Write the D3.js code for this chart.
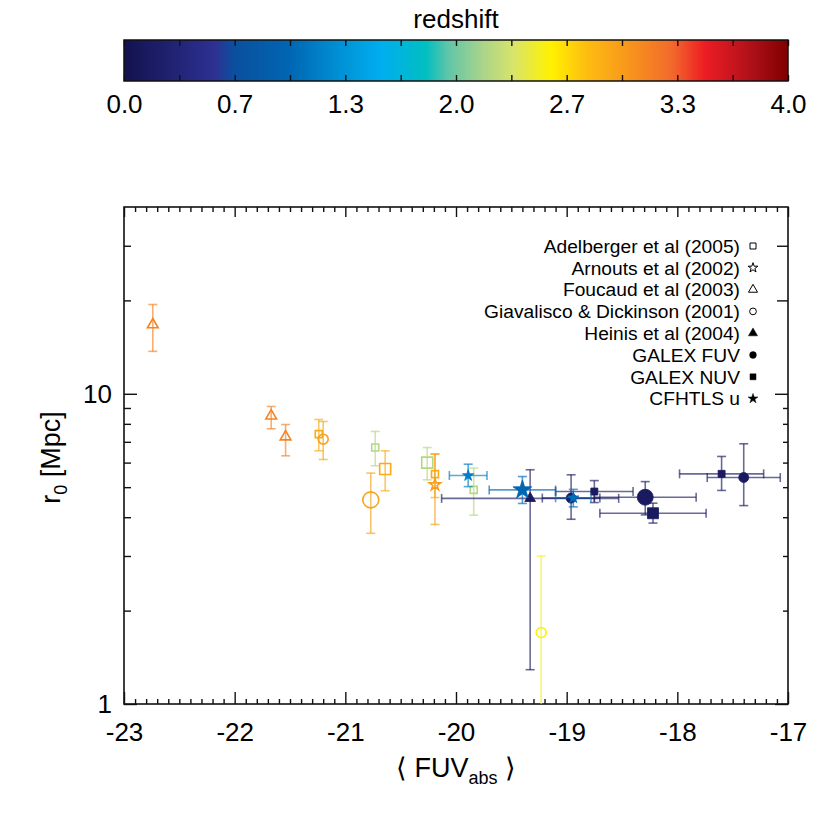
<!DOCTYPE html>
<html>
<head>
<meta charset="utf-8">
<script src="https://cdn.jsdelivr.net/npm/d3@7"></script>
<style>
  body { margin: 0; background: #fff; }
  svg { display: block; font-family: "Liberation Sans", Arial, Helvetica, sans-serif; }
</style>
</head>
<body>
<svg id="chart" width="830" height="830"></svg>
<script>
'use strict'

// one row per measurement: [FUV_abs, err FUV, r0 (Mpc), err low, err high, redshift, big symbol]
const adelberger = [
  [-21.24, 0, 7.41, 0.86, 0.85, 2.9, 0],
  [-20.73, 0, 6.71, 0.85, 0.85, 2.2, 0],
  [-20.64, 0, 5.72, 0.85, 0.83, 2.9, 1],
  [-20.26, 0, 6.00, 0.72, 0.71, 2.2, 1],
  [-20.19, 0, 5.51, 0.88, 0.89, 2.9, 0],
  [-19.84, 0, 4.90, 0.84, 0.86, 2.2, 0]
]
const arnouts = [
  [-20.19, 0, 5.09, 1.3, 1.3, 3.0, 0]
]
const foucaud = [
  [-22.74, 0, 16.7, 3.0, 2.7, 3.15, 0],
  [-21.67, 0, 8.49, 0.78, 0.61, 3.15, 0],
  [-21.54, 0, 7.27, 0.96, 0.69, 3.15, 0]
]
const giavalisco = [
  [-21.20, 0, 7.14, 1.0, 1.0, 2.95, 0],
  [-20.77, 0, 4.55, 1.0, 1.0, 2.95, 1],
  [-19.23, 0, 1.70, 1.3, 1.3, 2.55, 0]
]
const heinis = [
  [-19.33, 0.80, 4.60, 3.31, 1.09, 0.15, 0]
]
const galexFuv = [
  [-18.96, 0.26, 4.61, 0.67, 0.87, 0.15, 0],
  [-18.29, 0.46, 4.64, 0.57, 0.57, 0.15, 1],
  [-17.40, 0.33, 5.37, 1.01, 1.53, 0.15, 0]
]
const galexNuv = [
  [-18.75, 0.35, 4.84, 0.38, 0.41, 0.15, 0],
  [-18.22, 0.48, 4.12, 0.29, 0.32, 0.15, 1],
  [-17.60, 0.38, 5.52, 0.64, 0.76, 0.15, 0]
]
const cfhtls = [
  [-19.89, 0.17, 5.45, 0.43, 0.48, 1.15, 0],
  [-19.40, 0.30, 4.90, 0.47, 0.51, 1.0, 1],
  [-18.94, 0.16, 4.62, 0.30, 0.30, 1.05, 0]
]

const studyNames = ['Adelberger et al (2005)', 'Arnouts et al (2002)', 'Foucaud et al (2003)',
  'Giavalisco & Dickinson (2001)', 'Heinis et al (2004)', 'GALEX FUV', 'GALEX NUV', 'CFHTLS u']
const studyData = [adelberger, arnouts, foucaud, giavalisco, heinis, galexFuv, galexNuv, cfhtls]

const xTicks = [-23, -22, -21, -20, -19, -18, -17]
const yTicks = [1, 10]
const zTickLabels = ['0.0', '0.7', '1.3', '2.0', '2.7', '3.3', '4.0']

// colour table of the redshift bar
const zStops = [0, 0.55, 0.66, 1.0, 1.3, 1.55, 1.82, 1.95, 2.15, 2.35, 2.57, 2.8, 3.05, 3.3, 3.5, 3.75, 4.0]
const zColors = ['#12124f', '#2e3192', '#0b4f9e', '#0066b3', '#0091d5', '#00aeef', '#00bfc0', '#5fc5a8',
  '#a6d38c', '#d9e46a', '#fff200', '#fdba12', '#f7941d', '#f26a2b', '#ed1c24', '#b5121b', '#7f0000']

// symbol per study (same order as studyNames)
const symbolShape = ['square', 'star', 'triangle', 'circle', 'triangle', 'circle', 'square', 'star']
const symbolFilled = [false, false, false, false, true, true, true, true]

const svg = d3.select('#chart')
const pLeft = 124
const pRight = 788
const pTop = 207
const pBottom = 704

const x = d3.scaleLinear().domain([-23, -17]).range([pLeft, pRight])
const y = d3.scaleLog().domain([1, 40]).range([pBottom, pTop])
const color = d3.scaleLinear().domain(zStops).range(zColors).clamp(true)
const zx = d3.scaleLinear().domain([0, 4]).range([pLeft, pRight])

const shapes = {
  square: d3.symbolSquare,
  star: d3.symbolStar,
  triangle: d3.symbolTriangle,
  circle: d3.symbolCircle
}
const sizes = {
  square: [49, 121],
  star: [40, 110],
  triangle: [50, 64],
  circle: [78, 200]
}
function marker (shape, big) {
  return d3.symbol().type(shapes[shape]).size(sizes[shape][big ? 1 : 0])()
}

// ---- colour bar ----
const defs = svg.append('defs')
const grad = defs.append('linearGradient').attr('id', 'zgrad')
d3.range(0, 4.001, 0.02).forEach(z => {
  grad.append('stop').attr('offset', `${z / 4 * 100}%`).attr('stop-color', color(z))
})
svg.append('rect')
  .attr('x', pLeft).attr('y', 40)
  .attr('width', pRight - pLeft).attr('height', 41)
  .attr('fill', 'url(#zgrad)')
  .attr('stroke', '#111').attr('stroke-width', 1.5)

const zMinor = d3.range(13).map(i => i * 4 / 12)
svg.append('g')
  .attr('transform', 'translate(0,40)')
  .call(d3.axisTop(zx).tickValues(zMinor).tickSize(-6).tickFormat(''))
svg.append('g')
  .attr('transform', 'translate(0,81)')
  .call(d3.axisBottom(zx).tickValues(zMinor).tickSize(-6).tickFormat(''))
svg.append('g')
  .attr('class', 'zlabels')
  .attr('transform', 'translate(0,81)')
  .call(d3.axisBottom(zx).tickValues(zTickLabels.map((d, i) => i * 4 / 6))
    .tickSize(0).tickPadding(14).tickFormat((d, i) => zTickLabels[i]))

svg.append('text')
  .attr('x', (pLeft + pRight) / 2).attr('y', 28)
  .attr('text-anchor', 'middle')
  .attr('font-size', 26)
  .text('redshift')

// ---- axes ----
const minorX = d3.range(-230, -169).filter(d => d % 10 !== 0).map(d => d / 10)
const minorY = [2, 3, 4, 5, 6, 7, 8, 9]
const minorY2 = [20, 30]

svg.append('g').attr('class', 'ax').attr('transform', `translate(0,${pBottom})`)
  .call(d3.axisBottom(x).tickValues(xTicks).tickSizeInner(-12).tickSizeOuter(0)
    .tickPadding(19).tickFormat(d => String(d)))
svg.append('g').attr('class', 'ax').attr('transform', `translate(0,${pBottom})`)
  .call(d3.axisBottom(x).tickValues(minorX).tickSize(-5).tickFormat(''))
svg.append('g').attr('class', 'ax').attr('transform', `translate(0,${pTop})`)
  .call(d3.axisTop(x).tickValues(xTicks).tickSize(-10).tickFormat(''))
svg.append('g').attr('class', 'ax').attr('transform', `translate(0,${pTop})`)
  .call(d3.axisTop(x).tickValues(minorX).tickSize(-5).tickFormat(''))

svg.append('g').attr('class', 'ax').attr('transform', `translate(${pLeft},0)`)
  .call(d3.axisLeft(y).tickValues(yTicks).tickSizeInner(-13).tickSizeOuter(0)
    .tickPadding(12).tickFormat(d => String(d)))
svg.append('g').attr('class', 'ax').attr('transform', `translate(${pLeft},0)`)
  .call(d3.axisLeft(y).tickValues(minorY.concat(minorY2)).tickSize(-7).tickFormat(''))
svg.append('g').attr('class', 'ax').attr('transform', `translate(${pRight},0)`)
  .call(d3.axisRight(y).tickValues(yTicks).tickSize(-13).tickFormat(''))
svg.append('g').attr('class', 'ax').attr('transform', `translate(${pRight},0)`)
  .call(d3.axisRight(y).tickValues(minorY).tickSize(-5).tickFormat(''))
svg.append('g').attr('class', 'ax').attr('transform', `translate(${pRight},0)`)
  .call(d3.axisRight(y).tickValues(minorY2).tickSize(-11).tickFormat(''))

svg.selectAll('.domain').remove()
svg.selectAll('.tick line').attr('stroke', '#111').attr('stroke-width', 1.4)
svg.selectAll('.ax text, .zlabels text')
  .attr('font-size', 26)
  .attr('font-family', '"Liberation Sans", Arial, sans-serif')
  .attr('fill', '#000')

svg.append('rect')
  .attr('x', pLeft).attr('y', pTop)
  .attr('width', pRight - pLeft).attr('height', pBottom - pTop)
  .attr('fill', 'none')
  .attr('stroke', '#111').attr('stroke-width', 1.6)

// axis titles
const xt = svg.append('text')
  .attr('x', (pLeft + pRight) / 2).attr('y', 777)
  .attr('text-anchor', 'middle')
  .attr('font-size', 27)
xt.append('tspan').text('\u27e8 FUV')
xt.append('tspan').attr('font-size', 18).attr('dy', 7).text('abs')
xt.append('tspan').attr('dy', -7).text(' \u27e9')

const yt = svg.append('text')
  .attr('transform', `translate(60,${(pTop + pBottom) / 2 + 2}) rotate(-90)`)
  .attr('text-anchor', 'middle')
  .attr('font-size', 27)
yt.append('tspan').text('r')
yt.append('tspan').attr('font-size', 18).attr('dy', 7).text('0')
yt.append('tspan').attr('dy', -7).text(' [Mpc]')

// ---- points ----
defs.append('clipPath').attr('id', 'plotclip')
  .append('rect')
  .attr('x', pLeft).attr('y', pTop)
  .attr('width', pRight - pLeft).attr('height', pBottom - pTop)

const plot = svg.append('g').attr('clip-path', 'url(#plotclip)')
const cap = 4.5

studyData.forEach((rows, s) => {
  const g = plot.append('g').attr('class', 'study')
  rows.forEach(([m, dm, r, lo, hi, z, big]) => {
    const c = color(z)
    const px = x(m)
    const py = y(r)
    const eb = g.append('g')
      .attr('stroke', c)
      .attr('stroke-width', 1.6)
      .attr('stroke-opacity', 0.65)
    const y1 = y(r + hi)
    const y2 = y(r - lo)
    eb.append('line').attr('x1', px).attr('x2', px).attr('y1', y1).attr('y2', y2)
    eb.append('line').attr('x1', px - cap).attr('x2', px + cap).attr('y1', y1).attr('y2', y1)
    eb.append('line').attr('x1', px - cap).attr('x2', px + cap).attr('y1', y2).attr('y2', y2)
    if (dm > 0) {
      const x1 = x(m - dm)
      const x2 = x(m + dm)
      eb.append('line').attr('x1', x1).attr('x2', x2).attr('y1', py).attr('y2', py)
      eb.append('line').attr('x1', x1).attr('x2', x1).attr('y1', py - cap).attr('y2', py + cap)
      eb.append('line').attr('x1', x2).attr('x2', x2).attr('y1', py - cap).attr('y2', py + cap)
    }
    g.append('path')
      .attr('d', marker(symbolShape[s], big))
      .attr('transform', `translate(${px},${py})`)
      .attr('fill', symbolFilled[s] ? c : 'none')
      .attr('stroke', c)
      .attr('stroke-width', symbolFilled[s] ? 0.8 : 1.6)
  })
})

// ---- legend ----
const legend = svg.append('g').attr('class', 'legend')
studyNames.forEach((name, i) => {
  const ly = 246 + i * 21.8
  legend.append('text')
    .attr('x', 740).attr('y', ly)
    .attr('dy', '0.35em')
    .attr('text-anchor', 'end')
    .attr('font-size', 19.2)
    .text(name)
  legend.append('path')
    .attr('d', d3.symbol().type(shapes[symbolShape[i]]).size(symbolShape[i] === 'star' ? 30 : 36)())
    .attr('transform', `translate(753,${ly})`)
    .attr('fill', symbolFilled[i] ? '#000' : 'none')
    .attr('stroke', '#000')
    .attr('stroke-width', symbolFilled[i] ? 0.5 : 1)
})
</script>
</body>
</html>
